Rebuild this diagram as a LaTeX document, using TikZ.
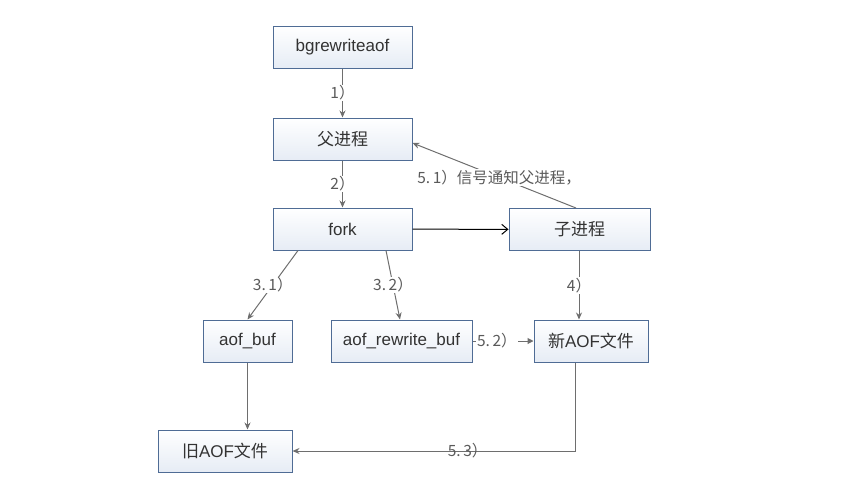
\documentclass[tikz,border=0pt]{standalone}
\usepackage{fontspec}
\setmainfont{Liberation Sans}
\newfontfamily\cjk{Noto Sans CJK SC}
\usetikzlibrary{arrows.meta}
\definecolor{boxline}{HTML}{4F6C95}
\definecolor{boxbot}{HTML}{E6ECF5}
\definecolor{lnk}{HTML}{6E6E6E}
\definecolor{lbl}{HTML}{5A5A5A}
\tikzset{
  box/.style={draw=boxline, line width=1pt, top color=white, bottom color=boxbot,
    minimum height=42pt, inner sep=0pt, font=\fontsize{17}{17}\selectfont, text=black!80},
  conn/.style={draw=lnk, line width=1pt, -{Stealth[length=7pt,width=6pt]}},
  lab/.style={fill=white, inner sep=1pt, text=lbl, font=\cjk\fontsize{15.5}{15.5}\selectfont},
}
\newcommand{\dt}{.\,}
\begin{document}
\begin{tikzpicture}[x=1pt,y=-1pt]
\useasboundingbox (0,0) rectangle (847,496);
\node[box, minimum width=139pt] (bg) at (342.5,47) {bgrewriteaof};
\node[box, minimum width=139pt] (fu) at (342.5,139) {\cjk 父进程};
\node[box, minimum width=139pt] (fork) at (342.5,229) {fork};
\node[box, minimum width=141pt] (zi) at (579.5,229.5) {\cjk 子进程};
\node[box, minimum width=89pt] (ab) at (247.5,341) {aof\_buf};
\node[box, minimum width=141pt] (arb) at (401.5,341) {aof\_rewrite\_buf};
\node[box, minimum width=114pt] (xin) at (591,341) {{\cjk 新}AOF{\cjk 文件}};
\node[box, minimum width=134pt] (jiu) at (225,451) {{\cjk 旧}AOF{\cjk 文件}};

\draw[conn] (bg) -- node[lab] {1）} (fu);
\draw[conn] (fu) -- node[lab] {2）} (fork);
\draw[draw=black, line width=1pt, -{Straight Barb[length=6pt,width=10pt]}] (fork) -- (zi);
\draw[conn] (zi.north -| 576,0) -- node[lab, pos=0.47] {5\dt1）信号通知父进程，} (fu.east |- 0,143);
\draw[conn] (fork.south -| 298,0) -- node[lab] {3\dt1）} (ab.north);
\draw[conn] (fork.south -| 386,0) -- node[lab] {3\dt2）} (arb.north -| 400,0);
\draw[conn] (zi.south -| 579,0) -- node[lab] {4）} (xin.north -| 579,0);
\draw[conn, -{Triangle[length=6pt,width=6pt]}] (arb) -- node[lab, pos=0.4] {5\dt2）} (xin);
\draw[conn] (ab) -- (jiu.north -| ab);
\draw[conn] (xin.south -| 575,0) |- node[lab, pos=0.69, fill=none] {5\dt3）} (jiu);
\end{tikzpicture}
\end{document}
